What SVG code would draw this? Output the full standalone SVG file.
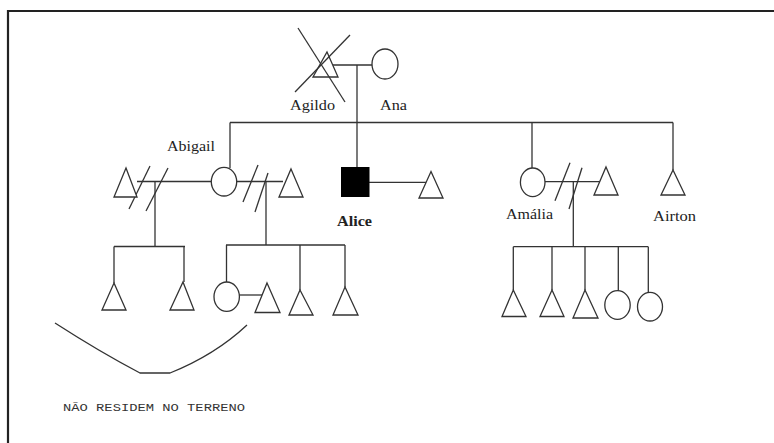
<svg xmlns="http://www.w3.org/2000/svg" width="774" height="443" viewBox="0 0 774 443">
<style>
.ln{stroke:#333;stroke-width:1.3;fill:none}
.sh{stroke:#333;stroke-width:1.3;fill:#fff}
.fr{stroke:#222;stroke-width:2.2;fill:none}
.lb{font-family:"Liberation Serif","Times New Roman",serif;font-size:14px;fill:#222}
.nt{font-family:"Liberation Mono","Courier New",monospace;font-size:11px;fill:#333}
</style>
<rect width="774" height="443" fill="#fff"/>
<path class="fr" d="M8 443 V11 H774"/>
<g id="connectors">
<line class="ln" x1="333" y1="65" x2="372" y2="65"/>
<line class="ln" x1="357" y1="65" x2="357" y2="167"/>
<line class="ln" x1="230" y1="122.5" x2="673" y2="122.5"/>
<line class="ln" x1="230" y1="122.5" x2="230" y2="168"/>
<line class="ln" x1="532" y1="122.5" x2="532" y2="168"/>
<line class="ln" x1="673" y1="122.5" x2="673" y2="170"/>
<line class="ln" x1="137" y1="181.5" x2="211" y2="181.5"/>
<line class="ln" x1="237" y1="181.5" x2="283" y2="181.5"/>
<line class="ln" x1="150" y1="166" x2="129" y2="209"/>
<line class="ln" x1="168" y1="168" x2="146" y2="211"/>
<line class="ln" x1="258" y1="165" x2="243" y2="202"/>
<line class="ln" x1="268" y1="173" x2="255" y2="212"/>
<line class="ln" x1="155" y1="181.5" x2="155" y2="246.5"/>
<line class="ln" x1="266" y1="181.5" x2="266" y2="245"/>
<line class="ln" x1="369" y1="182.3" x2="427" y2="182.3"/>
<line class="ln" x1="545" y1="181.7" x2="600" y2="181.7"/>
<line class="ln" x1="570" y1="162.7" x2="555" y2="200.7"/>
<line class="ln" x1="582" y1="167.7" x2="569" y2="209"/>
<line class="ln" x1="573.3" y1="181.7" x2="573.3" y2="246.7"/>
<line class="ln" x1="114" y1="246.5" x2="185" y2="246.5"/>
<line class="ln" x1="114" y1="246.5" x2="114" y2="283"/>
<line class="ln" x1="184" y1="246.5" x2="184" y2="282"/>
<line class="ln" x1="226" y1="245" x2="345" y2="245"/>
<line class="ln" x1="226.5" y1="245" x2="226.5" y2="282"/>
<line class="ln" x1="300" y1="245" x2="300" y2="290"/>
<line class="ln" x1="345" y1="245" x2="345" y2="287"/>
<line class="ln" x1="239" y1="295" x2="264" y2="295"/>
<line class="ln" x1="513.3" y1="246.7" x2="648.3" y2="246.7"/>
<line class="ln" x1="513.3" y1="246.7" x2="513.3" y2="290"/>
<line class="ln" x1="552" y1="246.7" x2="552" y2="290"/>
<line class="ln" x1="585" y1="246.7" x2="585" y2="290"/>
<line class="ln" x1="618.3" y1="246.7" x2="618.3" y2="291"/>
<line class="ln" x1="648.3" y1="246.7" x2="648.3" y2="292.5"/>
<path class="ln" d="M55 323 Q100 352 140 373 L170 373 Q215 355 247 325"/>
</g>
<g id="agildo">
<polygon class="sh" points="327,52 338,77 313,77"/>
<line class="ln" x1="298" y1="28" x2="345" y2="102"/>
<line class="ln" x1="350" y1="35" x2="295" y2="92"/>
<text class="lb" x="290" y="110" textLength="45" lengthAdjust="spacingAndGlyphs">Agildo</text>
</g>
<g id="ana">
<ellipse class="sh" cx="385" cy="64" rx="13" ry="15"/>
<text class="lb" x="380" y="110" textLength="27" lengthAdjust="spacingAndGlyphs">Ana</text>
</g>
<g id="abigail-ex1"><polygon class="sh" points="126,168 137,197 114,197"/></g>
<g id="abigail">
<ellipse class="sh" cx="224" cy="181.7" rx="12.7" ry="14.3"/>
<text class="lb" x="167" y="151" textLength="48" lengthAdjust="spacingAndGlyphs">Abigail</text>
</g>
<g id="abigail-ex2"><polygon class="sh" points="291,169 303,197 279,197"/></g>
<g id="alice">
<rect x="341" y="167" width="28.5" height="30" fill="#000"/>
<text class="lb" x="337" y="226" textLength="35" lengthAdjust="spacingAndGlyphs" font-weight="bold">Alice</text>
</g>
<g id="alice-partner"><polygon class="sh" points="431,171.5 443,198 419,198"/></g>
<g id="amalia">
<ellipse class="sh" cx="532.7" cy="182.3" rx="12.3" ry="14.3"/>
<text class="lb" x="506" y="219" textLength="47" lengthAdjust="spacingAndGlyphs">Amália</text>
</g>
<g id="amalia-ex"><polygon class="sh" points="606,167 618,195 594,195"/></g>
<g id="airton">
<polygon class="sh" points="673,170 685,195 661,195"/>
<text class="lb" x="653" y="221" textLength="43" lengthAdjust="spacingAndGlyphs">Airton</text>
</g>
<g id="c1"><polygon class="sh" points="114,283 126,310 102,310"/></g>
<g id="c2"><polygon class="sh" points="183,282 194,310 170,310"/></g>
<g id="c3"><ellipse class="sh" cx="226.7" cy="296.7" rx="12.7" ry="14.7"/></g>
<g id="c3-partner"><polygon class="sh" points="267,283 280,312.5 255,312.5"/></g>
<g id="c4"><polygon class="sh" points="300,290 313,315 289,315"/></g>
<g id="c5"><polygon class="sh" points="345,287 358,315 333,315"/></g>
<g id="c6"><polygon class="sh" points="513.3,290 526,316.5 502,316.5"/></g>
<g id="c7"><polygon class="sh" points="552,290 564,316.5 540,316.5"/></g>
<g id="c8"><polygon class="sh" points="585,290 598,318 573,318"/></g>
<g id="c9"><ellipse class="sh" cx="617.5" cy="305" rx="12.7" ry="14.3"/></g>
<g id="c10"><ellipse class="sh" cx="650" cy="306.7" rx="12.5" ry="14.3"/></g>
<g id="note">
<text class="nt" x="63" y="411" textLength="182" lengthAdjust="spacingAndGlyphs">NÃO RESIDEM NO TERRENO</text>
</g>
</svg>
